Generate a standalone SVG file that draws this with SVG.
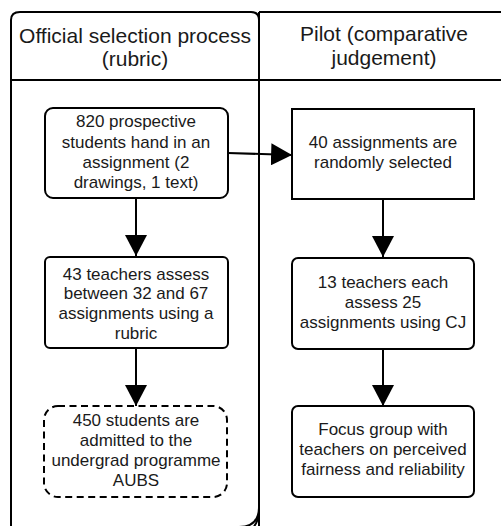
<svg xmlns="http://www.w3.org/2000/svg" width="501" height="526" viewBox="0 0 501 526">
<defs>
<style>
.lane{fill:#fff;stroke:#000;stroke-width:2}
.box{fill:#fff;stroke:#000;stroke-width:2}
.dash{stroke-dasharray:7 4.5}
.hd{font-family:"Liberation Sans",Arial,sans-serif;font-size:21px;fill:#1a1a1a;text-anchor:middle}
.tx{font-family:"Liberation Sans",Arial,sans-serif;font-size:17px;fill:#1a1a1a;text-anchor:middle}
.edge{fill:none;stroke:#000;stroke-width:2}
</style>
<marker id="ah" markerUnits="userSpaceOnUse" markerWidth="22" markerHeight="22" viewBox="0 0 20 20" refX="19" refY="10" orient="auto">
<path d="M0,0 L19,10 L0,20 Z" fill="#000"/>
</marker>
</defs>
<rect width="501" height="526" fill="#fff"/>
<g id="lane-right">
<path class="lane" d="M259,12 H530 V540 H259 V512 Q259,520 253,528 M259,512 V12 Z"/>
<line class="edge" x1="259" y1="80" x2="501" y2="80"/>
<text class="hd" x="384" y="41">Pilot (comparative</text>
<text class="hd" x="384" y="65">judgement)</text>
</g>
<g id="lane-left">
<path class="lane" d="M20,12 H251 Q259,12 259,20 V507 Q259,527 239,527 H11 V20 Q11,12 20,12 Z"/>
<line class="edge" x1="11" y1="80" x2="259" y2="80"/>
<text class="hd" x="135" y="43">Official selection process</text>
<text class="hd" x="135" y="66">(rubric)</text>
</g>
<g id="connectors">
<line class="edge" x1="136" y1="198" x2="136" y2="256" marker-end="url(#ah)"/>
<line class="edge" x1="136" y1="348" x2="136" y2="406" marker-end="url(#ah)"/>
<line class="edge" x1="228" y1="153" x2="292" y2="155" marker-end="url(#ah)"/>
<line class="edge" x1="383" y1="199" x2="383" y2="257" marker-end="url(#ah)"/>
<line class="edge" x1="383" y1="349" x2="383" y2="406" marker-end="url(#ah)"/>
</g>
<g id="n1">
<rect class="box" x="45" y="108" width="183" height="90" rx="8"/>
<text class="tx" x="136" y="127">820 prospective</text>
<text class="tx" x="136" y="148">students hand in an</text>
<text class="tx" x="136" y="168">assignment (2</text>
<text class="tx" x="136" y="188">drawings, 1 text)</text>
</g>
<g id="n2">
<rect class="box" x="45" y="257" width="183" height="91" rx="5"/>
<text class="tx" x="136" y="280">43 teachers assess</text>
<text class="tx" x="136" y="299">between 32 and 67</text>
<text class="tx" x="136" y="319">assignments using a</text>
<text class="tx" x="136" y="339">rubric</text>
</g>
<g id="n3">
<rect class="box dash" x="44" y="406" width="183" height="91" rx="14"/>
<text class="tx" x="136" y="426">450 students are</text>
<text class="tx" x="136" y="446">admitted to the</text>
<text class="tx" x="136" y="466">undergrad programme</text>
<text class="tx" x="136" y="486">AUBS</text>
</g>
<g id="n4">
<rect class="box" x="292" y="109" width="182" height="90"/>
<text class="tx" x="383" y="148">40 assignments are</text>
<text class="tx" x="383" y="168">randomly selected</text>
</g>
<g id="n5">
<rect class="box" x="292" y="258" width="182" height="91" rx="6"/>
<text class="tx" x="383" y="288">13 teachers each</text>
<text class="tx" x="383" y="308">assess 25</text>
<text class="tx" x="383" y="328">assignments using CJ</text>
</g>
<g id="n6">
<rect class="box" x="292" y="406" width="182" height="91" rx="6"/>
<text class="tx" x="383" y="435">Focus group with</text>
<text class="tx" x="383" y="455">teachers on perceived</text>
<text class="tx" x="383" y="475">fairness and reliability</text>
</g>
</svg>
